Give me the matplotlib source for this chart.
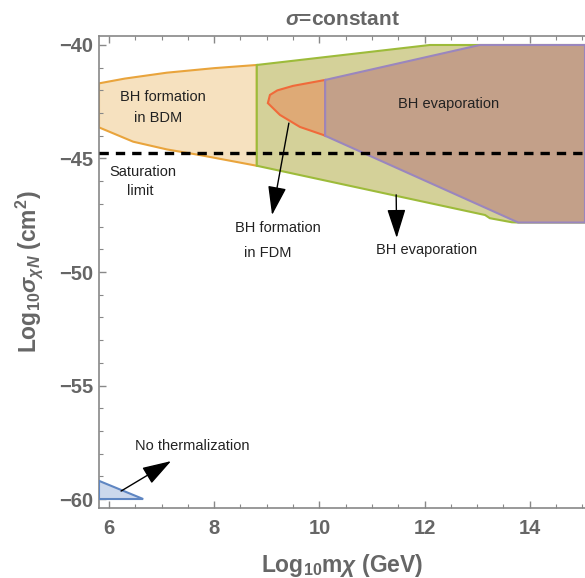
import matplotlib
matplotlib.use("Agg")
import matplotlib.pyplot as plt
from matplotlib.patches import Polygon
from matplotlib.ticker import MultipleLocator

plt.rcParams['font.family'] = ['Liberation Sans', 'DejaVu Sans']
plt.rcParams['mathtext.fontset'] = 'custom'
plt.rcParams['mathtext.rm'] = 'Liberation Sans:bold'
plt.rcParams['mathtext.it'] = 'Liberation Sans:italic:bold'
plt.rcParams['mathtext.bf'] = 'Liberation Sans:bold'

# ---------------- data ----------------
title = r"$\sigma$=constant"
x_ticks = [6, 8, 10, 12, 14]
y_ticks = [-60, -55, -50, -45, -40]

# BH formation in BDM (orange)
bdm_x_upper = [5.81, 6.3, 7.1, 8.0, 8.81]
bdm_y_upper = [-41.69, -41.48, -41.22, -41.02, -40.88]
bdm_x_lower = [5.81, 6.46, 7.10, 7.73, 8.81]
bdm_y_lower = [-43.63, -44.26, -44.60, -44.85, -45.32]

# Green region
green_x = [8.81, 12.1, 15.05, 15.05, 13.78, 13.66, 13.24, 13.15, 8.81]
green_y = [-40.88, -40.0, -40.0, -47.82, -47.82, -47.81, -47.63, -47.49, -45.32]

# BH formation in FDM (red outline)
fdm_x = [10.11, 9.5, 9.2, 9.06, 9.02, 9.25, 9.63, 10.07, 10.11]
fdm_y = [-41.54, -41.80, -42.0, -42.2, -42.56, -43.08, -43.61, -43.96, -44.0]

# BH evaporation (purple)
evap_x = [10.11, 13.05, 15.05, 15.05, 13.78, 10.11]
evap_y = [-41.54, -40.0, -40.0, -47.82, -47.82, -44.0]

# No thermalization (blue)
noth_x = [5.81, 6.65, 5.81]
noth_y = [-59.2, -60.0, -60.0]

saturation_limit = -44.74

labels = [
    ("BH formation", 7.03, -42.29),
    ("in BDM", 6.93, -43.2),
    ("Saturation", 6.65, -45.60),
    ("limit", 6.60, -46.45),
    ("BH evaporation", 12.45, -42.6),
    ("BH formation", 9.21, -48.06),
    ("in FDM", 9.01, -49.16),
    ("BH evaporation", 12.03, -49.03),
    ("No thermalization", 7.58, -57.67),
]
# arrows: (tail_x, tail_y, tip_x, tip_y)
arrows = [
    (9.42, -43.44, 9.10, -47.49),
    (11.46, -46.6, 11.47, -48.5),
    (6.23, -59.65, 7.18, -58.33),
]

# ---------------- figure ----------------
fig = plt.figure(figsize=(5.85, 5.78), dpi=100)
ax = fig.add_axes([99/585, 1 - 508/578, (585 - 99)/585, (508 - 36)/578])

gray = '#666666'

bdm_pts = list(zip(bdm_x_upper, bdm_y_upper)) + list(zip(bdm_x_lower[::-1], bdm_y_lower[::-1]))
ax.add_patch(Polygon(bdm_pts, closed=True, facecolor='#F6E1BF', edgecolor='#E9A43C', lw=1.5, zorder=1))
ax.add_patch(Polygon(list(zip(green_x, green_y)), closed=True, facecolor='#D4D199', edgecolor='#9DBB3A', lw=1.5, zorder=2))
ax.add_patch(Polygon(list(zip(fdm_x, fdm_y)), closed=True, facecolor='#DEAA76', edgecolor='#F06A3A', lw=1.5, zorder=3))
ax.add_patch(Polygon(list(zip(evap_x, evap_y)), closed=True, facecolor='#C3A089', edgecolor='#9A86BE', lw=1.5, zorder=4))
ax.add_patch(Polygon(list(zip(noth_x, noth_y)), closed=True, facecolor='#CCD8EC', edgecolor='#5F86C2', lw=1.5, zorder=4))

ax.axhline(saturation_limit, color='black', lw=2.4, linestyle=(0, (2.8, 2.1)), zorder=5)

for txt, x, y in labels:
    ax.text(x, y, txt, ha='center', va='center', fontsize=10.5, color='#222222', zorder=7)

for tx, ty, hx, hy in arrows:
    ax.annotate('', xy=(hx, hy), xytext=(tx, ty),
                arrowprops=dict(arrowstyle='-|>,head_length=1.0,head_width=0.32',
                                mutation_scale=18, lw=1.0, color='black',
                                shrinkA=0, shrinkB=0), zorder=6)

ax.set_xlim(5.81, 15.05)
ax.set_ylim(-60.396, -39.604)
ax.set_xticks(x_ticks)
ax.set_yticks(y_ticks)
ax.xaxis.set_minor_locator(MultipleLocator(0.5))
ax.yaxis.set_minor_locator(MultipleLocator(1))
ax.tick_params(which='both', direction='in', top=True, right=False, color='#888888')
ax.tick_params(which='major', length=5, width=1)
ax.tick_params(which='minor', length=3, width=0.8)
ax.tick_params(axis='x', which='major', pad=8)
ax.tick_params(axis='y', which='major', pad=4)
for lab in ax.get_xticklabels() + ax.get_yticklabels():
    lab.set_fontweight('bold')
    lab.set_fontsize(14.5)
    lab.set_color(gray)
for s in ['left', 'bottom', 'top']:
    ax.spines[s].set_color('#888888')
    ax.spines[s].set_linewidth(1.2)
ax.spines['right'].set_visible(False)

ax.set_title(title, fontsize=15, fontweight='bold', color=gray, pad=8)
ax.set_xlabel(r"Log$_{\mathbf{10}}$m$\chi$ (GeV)", fontsize=16.5, fontweight='bold', color=gray, labelpad=10)
ax.set_ylabel(r"Log$_{\mathbf{10}}$$\sigma_{\chi N}$ (cm$^{\mathbf{2}}$)", fontsize=16.5, fontweight='bold', color=gray, labelpad=10)

fig.savefig('out.png', dpi=100)
